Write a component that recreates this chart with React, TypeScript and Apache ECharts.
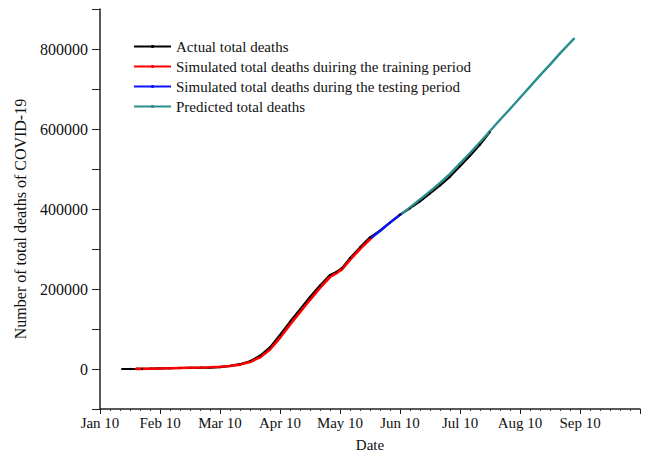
import React, { useEffect, useRef } from "react";
import * as echarts from "echarts";

// Day index 0 = Jan 10 (2020); x axis ticks every 30 days
const tickLabels = ["Jan 10", "Feb 10", "Mar 10", "Apr 10", "May 10", "Jun 10", "Jul 10", "Aug 10", "Sep 10"];

// Actual total deaths
const actualDays = [11, 15, 18, 21, 25, 30, 35, 40, 45, 50, 55, 60, 65, 70, 75, 80, 85, 90, 95, 100, 105, 110, 115, 118, 121, 125, 130, 135, 140, 145, 150, 155, 160, 165, 170, 175, 180, 185, 190, 195];
const actualDeaths = [17, 56, 213, 427, 813, 1380, 1870, 2470, 2800, 3100, 3500, 4600, 7900, 12000, 19500, 33000, 54000, 85000, 118000, 149000, 180000, 209000, 235000, 242000, 252000, 277000, 304000, 329000, 346000, 366000, 386000, 402000, 419000, 439000, 459000, 481000, 507000, 533000, 561000, 593000];

// Simulated total deaths, training period
const trainDays = [18, 25, 30, 35, 40, 45, 50, 55, 60, 65, 70, 75, 80, 85, 90, 95, 100, 105, 110, 115, 118, 121, 125, 130, 136];
const trainDeaths = [200, 600, 1200, 1800, 2400, 3000, 3600, 4400, 5500, 7500, 11000, 17500, 29000, 49000, 78000, 111000, 142000, 173000, 203000, 230000, 239000, 249000, 273000, 300000, 329000];

// Simulated total deaths, testing period
const testDays = [136, 140, 145, 151];
const testDeaths = [329000, 345000, 366000, 389000];

// Predicted total deaths
const predDays = [151, 155, 160, 165, 170, 175, 180, 185, 190, 195, 200, 205, 210, 215, 220, 225, 230, 237];
const predDeaths = [389000, 404000, 424000, 444000, 465000, 488000, 514000, 540000, 567000, 595000, 623000, 650000, 678000, 706000, 734000, 761000, 789000, 826000];

const pairs = (days: number[], vals: number[]) => days.map((d, i) => [d, vals[i]]);

const FONT = '"Liberation Serif", "Times New Roman", serif';

export default function App() {
  const ref = useRef<HTMLDivElement>(null);

  useEffect(() => {
    if (!ref.current) return;
    const chart = echarts.init(ref.current, null, { renderer: "svg" });

    const lineSeries = (name: string, color: string, width: number, data: number[][]) => ({
      name,
      type: "line",
      data,
      symbol: "circle",
      symbolSize: 2,
      showSymbol: true,
      itemStyle: { color },
      lineStyle: { color, width },
      emphasis: { disabled: true },
    });

    chart.setOption({
      animation: false,
      backgroundColor: "#ffffff",
      textStyle: { fontFamily: FONT },
      grid: { left: 100, right: 6, top: 9, bottom: 45, containLabel: false, outerBoundsMode: "none" },
      legend: {
        orient: "vertical",
        left: 133,
        top: 39,
        padding: 0,
        itemWidth: 37,
        itemHeight: 4,
        itemGap: 5,
        textStyle: { fontFamily: FONT, fontSize: 15, color: "#111" },
        data: [
          "Actual total deaths",
          "Simulated total deaths duiring the training period",
          "Simulated total deaths during the testing period",
          "Predicted total deaths",
        ],
      },
      graphic: [
        {
          type: "text",
          x: 20,
          y: 219,
          rotation: Math.PI / 2,
          style: {
            text: "Number of total deaths of COVID-19",
            fontFamily: FONT,
            fontSize: 16,
            fill: "#111",
            textAlign: "center",
            textVerticalAlign: "middle",
          },
        },
      ],
      xAxis: {
        type: "value",
        min: 0,
        max: 270,
        interval: 30,
        name: "Date",
        nameLocation: "middle",
        nameGap: 28,
        nameTextStyle: { fontFamily: FONT, fontSize: 15, color: "#111" },
        axisLine: { onZero: false, lineStyle: { color: "#222", width: 1.5 } },
        axisTick: { length: 5, lineStyle: { color: "#222" } },
        minorTick: { show: true, splitNumber: 6, length: 2, lineStyle: { color: "#444" } },
        splitLine: { show: false },
        axisLabel: {
          margin: 6,
          fontFamily: FONT,
          fontSize: 15,
          color: "#111",
          formatter: (v: number) => tickLabels[Math.round(v / 30)] ?? "",
        },
      },
      yAxis: {
        type: "value",
        min: -100000,
        max: 900000,
        interval: 100000,
        axisLine: { show: true, onZero: false, lineStyle: { color: "#222", width: 1.5 } },
        axisTick: { show: true, length: 8, lineStyle: { color: "#222" } },
        splitLine: { show: false },
        axisLabel: {
          margin: 12,
          fontFamily: FONT,
          fontSize: 16,
          color: "#111",
          formatter: (v: number) => (v >= 0 && v % 200000 === 0 ? String(v) : ""),
        },
      },
      series: [
        lineSeries("Actual total deaths", "#000000", 2.2, pairs(actualDays, actualDeaths)),
        lineSeries("Simulated total deaths duiring the training period", "#ff0000", 2.6, pairs(trainDays, trainDeaths)),
        lineSeries("Simulated total deaths during the testing period", "#0a14ff", 2.4, pairs(testDays, testDeaths)),
        lineSeries("Predicted total deaths", "#2a8f8c", 2.4, pairs(predDays, predDeaths)),
      ],
    });

    return () => chart.dispose();
  }, []);

  return (
    <div
      ref={ref}
      style={{ position: "fixed", left: 0, top: 0, width: 646, height: 454, background: "#fff" }}
    />
  );
}
